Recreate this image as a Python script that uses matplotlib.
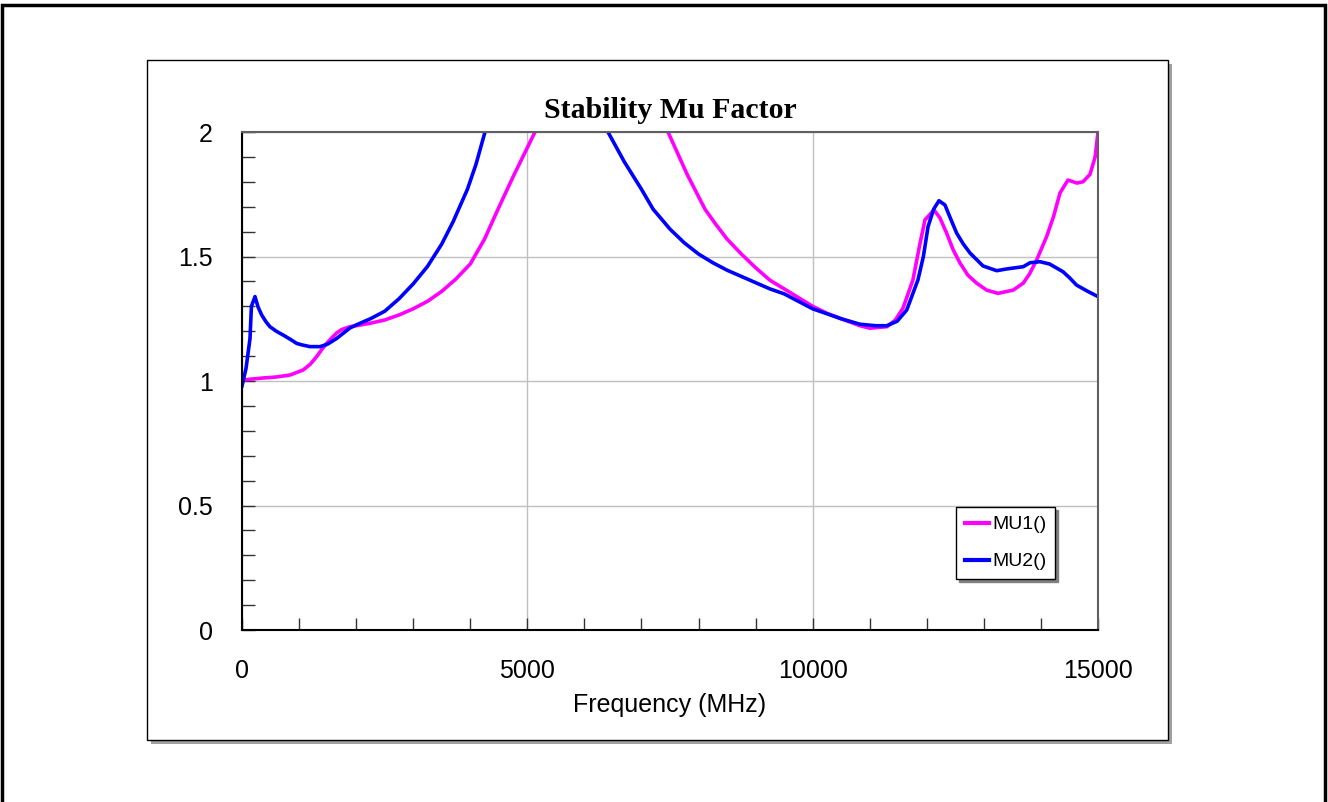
import numpy as np
import matplotlib
matplotlib.use("Agg")
import matplotlib.pyplot as plt
from matplotlib.patches import Rectangle
from matplotlib.ticker import MultipleLocator

# MU1 (magenta), frequency in MHz
f_mu1 = [0, 368, 600, 841, 1069, 1200, 1308, 1400, 1483, 1580, 1659, 1750, 1892, 2000, 2250,
         2500, 2750, 3000, 3250, 3500, 3750, 4000, 4250, 4486, 4750, 5134, 5250,
         7350, 7465, 7800, 8113, 8300, 8500, 8750, 9000, 9250, 9500, 9750, 10000, 10250,
         10500, 10829, 11000, 11300, 11450, 11583, 11757, 11870, 11968, 12126, 12230, 12347,
         12460, 12581, 12720, 12873, 13049, 13250, 13513, 13690, 13800, 13925, 14100, 14220,
         14334, 14473, 14630, 14736, 14860, 14950, 15000]
mu1 = [1.004, 1.012, 1.016, 1.024, 1.044, 1.068, 1.098, 1.127, 1.151, 1.175, 1.193, 1.207, 1.218, 1.222, 1.232,
       1.245, 1.265, 1.29, 1.32, 1.36, 1.41, 1.47, 1.57, 1.69, 1.82, 2.0, 2.08,
       2.08, 2.0, 1.83, 1.69, 1.63, 1.57, 1.51, 1.455, 1.405, 1.37, 1.335, 1.30, 1.272,
       1.25, 1.222, 1.212, 1.218, 1.245, 1.293, 1.406, 1.54, 1.647, 1.687, 1.655, 1.594,
       1.528, 1.474, 1.425, 1.393, 1.365, 1.352, 1.365, 1.393, 1.43, 1.486, 1.58, 1.66,
       1.755, 1.807, 1.795, 1.80, 1.83, 1.9, 2.0]

# MU2 (blue)
f_mu2 = [0, 70, 140, 165, 228, 280, 345, 420, 490, 600, 718, 850, 958, 1050, 1191, 1367, 1500,
         1659, 1892, 2000, 2250, 2500, 2750, 3000, 3250, 3500, 3700, 3950, 4100, 4258, 4400,
         6300, 6413, 6700, 7000, 7204, 7500, 7750, 8000, 8250, 8500, 8750, 9000, 9250, 9500,
         9750, 10000, 10250, 10500, 10829, 11100, 11300, 11480, 11648, 11845, 11940, 12022,
         12120, 12213, 12318, 12420, 12523, 12640, 12757, 12985, 13225, 13400, 13690, 13810,
         13983, 14150, 14386, 14500, 14625, 14820, 15000]
mu2 = [0.98, 1.05, 1.17, 1.30, 1.339, 1.298, 1.265, 1.238, 1.218, 1.20, 1.185, 1.167, 1.151, 1.145, 1.138, 1.138, 1.148,
       1.171, 1.213, 1.225, 1.25, 1.28, 1.33, 1.39, 1.46, 1.55, 1.64, 1.77, 1.87, 2.0, 2.1,
       2.08, 2.0, 1.88, 1.77, 1.69, 1.61, 1.555, 1.51, 1.475, 1.445, 1.42, 1.395, 1.37, 1.35,
       1.32, 1.29, 1.27, 1.25, 1.228, 1.222, 1.222, 1.24, 1.285, 1.406, 1.50, 1.62,
       1.69, 1.724, 1.707, 1.65, 1.594, 1.55, 1.514, 1.462, 1.443, 1.45, 1.459, 1.475,
       1.479, 1.47, 1.439, 1.415, 1.385, 1.36, 1.339]

W, H = 1328, 802
fig = plt.figure(figsize=(W / 100, H / 100), dpi=100)

# outer border
fig.patches.append(Rectangle((2 / W, -0.01), 1323 / W, 1 - 5 / H + 0.01, transform=fig.transFigure,
                             fill=False, edgecolor='black', lw=2.5, zorder=-3))
# chart panel with shadow
px0, py0, pw, ph = 147 / W, 1 - 740 / H, 1021 / W, 680 / H
fig.patches.append(Rectangle((px0 + 4 / W, py0 - 4 / H), pw, ph, transform=fig.transFigure,
                             facecolor='#a0a0a0', edgecolor='none', zorder=-2))
fig.patches.append(Rectangle((px0, py0), pw, ph, transform=fig.transFigure,
                             facecolor='white', edgecolor='black', lw=1, zorder=-1))

ax = fig.add_axes([242 / W, 1 - 630 / H, 856 / W, 498 / H])
ax.set_zorder(2)
ax.set_facecolor('none')

ax.plot(f_mu1, mu1, color='#ff00ff', lw=2.6, label='MU1()', solid_joinstyle='round')
ax.plot(f_mu2, mu2, color='#0000ff', lw=2.6, label='MU2()', solid_joinstyle='round')

ax.set_xlim(0, 15000)
ax.set_ylim(0, 2)
ax.xaxis.set_major_locator(MultipleLocator(5000))
ax.xaxis.set_minor_locator(MultipleLocator(1000))
ax.yaxis.set_minor_locator(MultipleLocator(0.1))
ax.set_yticks([0, 0.5, 1, 1.5, 2])
ax.set_yticklabels(['0', '0.5', '1', '1.5', '2'])
ax.grid(True, which='major', color='#c0c0c0', lw=1)

ax.tick_params(which='both', direction='in', length=9, width=1, color='#333333')
ax.tick_params(axis='x', which='major', pad=21, labelsize=18)
ax.tick_params(axis='y', which='major', pad=21, labelsize=18)
for lab in ax.get_xticklabels() + ax.get_yticklabels():
    lab.set_family('Liberation Sans')

for s in ['left', 'bottom']:
    ax.spines[s].set_color('black')
    ax.spines[s].set_linewidth(1.5)
for s in ['top', 'right']:
    ax.spines[s].set_color('#606060')
    ax.spines[s].set_linewidth(1.5)

ax.set_xlabel('Frequency (MHz)', fontsize=18, family='Liberation Sans', labelpad=7)
ax.set_title('Stability Mu Factor', fontsize=21.5, family='Liberation Serif',
             fontweight='bold', pad=10)

leg = ax.legend(loc='upper left', bbox_to_anchor=(0.834, 0.247), borderaxespad=0,
                prop={'family': 'Liberation Sans', 'size': 14}, frameon=True,
                fancybox=False, shadow={'color': '#808080', 'alpha': 1},
                handlelength=1.25, handletextpad=0.15, labelspacing=1.0,
                borderpad=0.45)
leg.get_frame().set_edgecolor('black')
leg.get_frame().set_linewidth(1)
for h in leg.get_lines():
    h.set_linewidth(3)

fig.savefig('out.png', dpi=100)
